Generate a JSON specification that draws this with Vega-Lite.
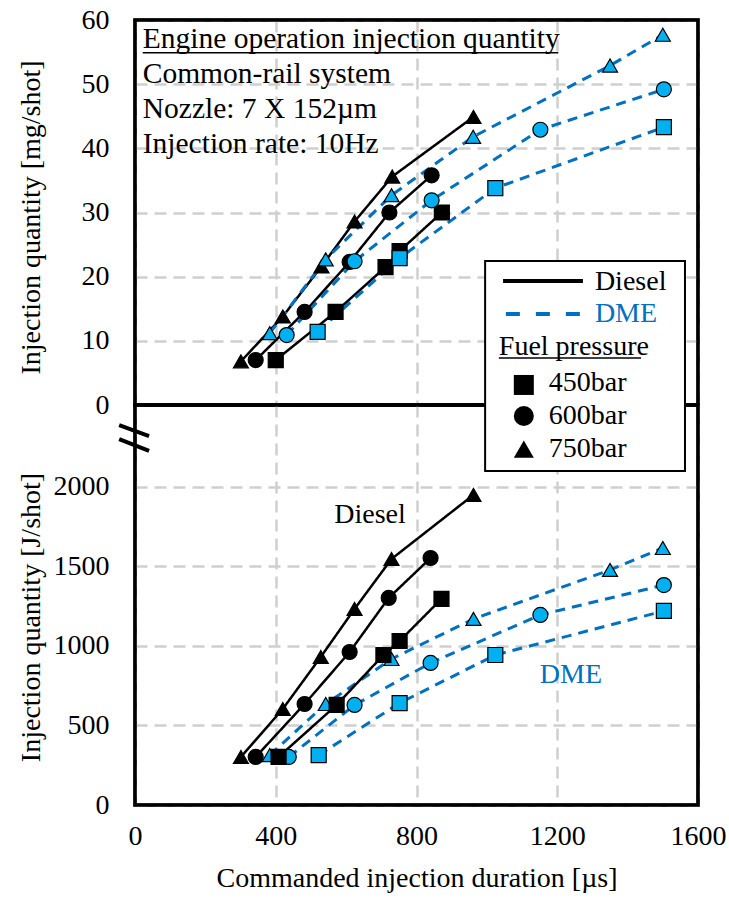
{
  "$schema": "https://vega.github.io/schema/vega-lite/v6.json",
  "padding": {"left": 15, "top": 4, "right": 0, "bottom": 5},
  "spacing": 0,
  "bounds": "flush",
  "config": {
    "font": "Liberation Serif",
    "view": {"stroke": "black", "strokeWidth": 3},
    "axis": {
      "gridColor": "#cfcfcf", "gridDash": [12, 7], "gridWidth": 2.5,
      "domain": false, "ticks": false, "format": "d", "labelFlush": false,
      "labelFontSize": 28, "labelColor": "black", "labelFont": "Liberation Serif",
      "titleFontSize": 28, "titleFontWeight": "normal", "titleColor": "black", "titleFont": "Liberation Serif"
    },
    "text": {"font": "Liberation Serif"}
  },
  "datasets": {
    "mg": [
      {"fuel": "Diesel", "p": "450bar", "t": 400, "q": 7},
      {"fuel": "Diesel", "p": "450bar", "t": 570, "q": 14.5},
      {"fuel": "Diesel", "p": "450bar", "t": 712, "q": 21.5},
      {"fuel": "Diesel", "p": "450bar", "t": 752, "q": 24},
      {"fuel": "Diesel", "p": "450bar", "t": 872, "q": 30},
      {"fuel": "Diesel", "p": "600bar", "t": 343, "q": 7},
      {"fuel": "Diesel", "p": "600bar", "t": 482, "q": 14.5},
      {"fuel": "Diesel", "p": "600bar", "t": 610, "q": 22.3},
      {"fuel": "Diesel", "p": "600bar", "t": 723, "q": 30},
      {"fuel": "Diesel", "p": "600bar", "t": 843, "q": 35.8},
      {"fuel": "Diesel", "p": "750bar", "t": 301, "q": 6.8},
      {"fuel": "Diesel", "p": "750bar", "t": 420, "q": 13.8},
      {"fuel": "Diesel", "p": "750bar", "t": 530, "q": 21.6},
      {"fuel": "Diesel", "p": "750bar", "t": 624, "q": 28.6},
      {"fuel": "Diesel", "p": "750bar", "t": 731, "q": 35.6},
      {"fuel": "Diesel", "p": "750bar", "t": 962, "q": 44.9},
      {"fuel": "DME", "p": "450bar", "t": 519, "q": 11.4},
      {"fuel": "DME", "p": "450bar", "t": 752, "q": 22.9},
      {"fuel": "DME", "p": "450bar", "t": 1024, "q": 33.8},
      {"fuel": "DME", "p": "450bar", "t": 1503, "q": 43.3},
      {"fuel": "DME", "p": "600bar", "t": 431, "q": 10.9},
      {"fuel": "DME", "p": "600bar", "t": 624, "q": 22.4},
      {"fuel": "DME", "p": "600bar", "t": 843, "q": 31.9},
      {"fuel": "DME", "p": "600bar", "t": 1152, "q": 42.9},
      {"fuel": "DME", "p": "600bar", "t": 1503, "q": 49.2},
      {"fuel": "DME", "p": "750bar", "t": 383, "q": 11.2},
      {"fuel": "DME", "p": "750bar", "t": 542, "q": 22.7},
      {"fuel": "DME", "p": "750bar", "t": 729, "q": 32.7},
      {"fuel": "DME", "p": "750bar", "t": 961, "q": 41.8},
      {"fuel": "DME", "p": "750bar", "t": 1350, "q": 52.9},
      {"fuel": "DME", "p": "750bar", "t": 1500, "q": 57.7}
    ],
    "J": [
      {"fuel": "DME", "p": "450bar", "t": 522, "q": 314},
      {"fuel": "DME", "p": "450bar", "t": 752, "q": 641},
      {"fuel": "DME", "p": "450bar", "t": 1024, "q": 943},
      {"fuel": "DME", "p": "450bar", "t": 1503, "q": 1220},
      {"fuel": "DME", "p": "600bar", "t": 437, "q": 302},
      {"fuel": "DME", "p": "600bar", "t": 624, "q": 629},
      {"fuel": "DME", "p": "600bar", "t": 840, "q": 893},
      {"fuel": "DME", "p": "600bar", "t": 1152, "q": 1195},
      {"fuel": "DME", "p": "600bar", "t": 1503, "q": 1383},
      {"fuel": "DME", "p": "750bar", "t": 383, "q": 314},
      {"fuel": "DME", "p": "750bar", "t": 542, "q": 635},
      {"fuel": "DME", "p": "750bar", "t": 729, "q": 918},
      {"fuel": "DME", "p": "750bar", "t": 962, "q": 1170},
      {"fuel": "DME", "p": "750bar", "t": 1350, "q": 1478},
      {"fuel": "DME", "p": "750bar", "t": 1500, "q": 1616},
      {"fuel": "Diesel", "p": "450bar", "t": 408, "q": 302},
      {"fuel": "Diesel", "p": "450bar", "t": 573, "q": 629},
      {"fuel": "Diesel", "p": "450bar", "t": 706, "q": 943},
      {"fuel": "Diesel", "p": "450bar", "t": 752, "q": 1031},
      {"fuel": "Diesel", "p": "450bar", "t": 871, "q": 1296},
      {"fuel": "Diesel", "p": "600bar", "t": 343, "q": 302},
      {"fuel": "Diesel", "p": "600bar", "t": 482, "q": 635},
      {"fuel": "Diesel", "p": "600bar", "t": 610, "q": 962},
      {"fuel": "Diesel", "p": "600bar", "t": 721, "q": 1302},
      {"fuel": "Diesel", "p": "600bar", "t": 840, "q": 1553},
      {"fuel": "Diesel", "p": "750bar", "t": 301, "q": 302},
      {"fuel": "Diesel", "p": "750bar", "t": 420, "q": 604},
      {"fuel": "Diesel", "p": "750bar", "t": 528, "q": 931},
      {"fuel": "Diesel", "p": "750bar", "t": 624, "q": 1233},
      {"fuel": "Diesel", "p": "750bar", "t": 729, "q": 1547},
      {"fuel": "Diesel", "p": "750bar", "t": 962, "q": 1950}
    ]
  },
  "vconcat": [
    {
      "width": 563,
      "height": 385,
      "layer": [
        {
          "data": {"name": "mg"},
          "mark": {"type": "line"},
          "encoding": {
            "x": {"field": "t", "type": "quantitative", "scale": {"domain": [0, 1600], "nice": false},
                  "axis": {"values": [0, 400, 800, 1200, 1600], "labels": false, "title": null, "grid": true}},
            "y": {"field": "q", "type": "quantitative", "scale": {"domain": [0, 60], "nice": false},
                  "axis": {"values": [0, 10, 20, 30, 40, 50, 60], "title": "Injection quantity [mg/shot]", "grid": true,
                           "labelPadding": 26, "titleX": -104, "titleY": 197, "titleAngle": -90, "titleAlign": "center", "titleBaseline": "middle"}},
            "color": {"field": "fuel", "type": "nominal", "scale": {"domain": ["Diesel", "DME"], "range": ["black", "#0070C0"]}, "legend": null},
            "strokeDash": {"field": "fuel", "type": "nominal", "scale": {"domain": ["Diesel", "DME"], "range": [[1, 0], [10, 7]]}, "legend": null},
            "strokeWidth": {"field": "fuel", "type": "nominal", "scale": {"type": "ordinal", "domain": ["Diesel", "DME"], "range": [2.5, 3]}, "legend": null},
            "detail": {"field": "p"}
          }
        },
        {
          "data": {"name": "mg"},
          "mark": {"type": "point", "filled": true, "size": 225, "stroke": "black", "strokeWidth": 1.2, "opacity": 1},
          "encoding": {
            "x": {"field": "t", "type": "quantitative"},
            "y": {"field": "q", "type": "quantitative"},
            "shape": {"field": "p", "type": "nominal", "scale": {"domain": ["450bar", "600bar", "750bar"], "range": ["square", "circle", "triangle-up"]}, "legend": null},
            "fill": {"field": "fuel", "type": "nominal", "scale": {"domain": ["Diesel", "DME"], "range": ["black", "#00B0F0"]}, "legend": null}
          }
        },
        {
          "data": {"values": [{}]},
          "mark": {"type": "rect", "fill": "white", "fillOpacity": 0, "stroke": "black", "strokeWidth": 3.5},
          "encoding": {"x": {"datum": 0}, "x2": {"datum": 1600}, "y": {"datum": 0}, "y2": {"datum": 60}}
        },
        {
          "data": {"values": [{}]},
          "mark": {"type": "text", "align": "left", "baseline": "middle", "fontSize": 29.5, "color": "black", "text": "Engine operation injection quantity"},
          "encoding": {"x": {"datum": 22}, "y": {"datum": 57.1}}
        },
        {
          "data": {"values": [{}]},
          "mark": {"type": "text", "align": "left", "baseline": "middle", "fontSize": 29.5, "color": "black", "text": "Common-rail system"},
          "encoding": {"x": {"datum": 22}, "y": {"datum": 51.6}}
        },
        {
          "data": {"values": [{}]},
          "mark": {"type": "text", "align": "left", "baseline": "middle", "fontSize": 29.5, "color": "black", "text": "Nozzle: 7 X 152µm"},
          "encoding": {"x": {"datum": 22}, "y": {"datum": 46.2}}
        },
        {
          "data": {"values": [{}]},
          "mark": {"type": "text", "align": "left", "baseline": "middle", "fontSize": 29.5, "color": "black", "text": "Injection rate: 10Hz"},
          "encoding": {"x": {"datum": 22}, "y": {"datum": 40.7}}
        },
        {
          "data": {"values": [{}]},
          "mark": {"type": "rule", "color": "black", "strokeWidth": 1.5},
          "encoding": {"x": {"datum": 22}, "x2": {"datum": 1203}, "y": {"datum": 54.9}}
        }
      ]
    },
    {
      "width": 563,
      "height": 400,
      "layer": [
        {
          "data": {"name": "J"},
          "mark": {"type": "line"},
          "encoding": {
            "x": {"field": "t", "type": "quantitative", "scale": {"domain": [0, 1600], "nice": false},
                  "axis": {"values": [0, 400, 800, 1200, 1600], "title": "Commanded injection duration [µs]", "grid": true,
                           "labelPadding": 17, "titlePadding": 14}},
            "y": {"field": "q", "type": "quantitative", "scale": {"domain": [0, 2515], "nice": false},
                  "axis": {"values": [0, 500, 1000, 1500, 2000], "title": "Injection quantity [J/shot]", "grid": true,
                           "labelPadding": 26, "titleX": -104, "titleY": 212, "titleAngle": -90, "titleAlign": "center", "titleBaseline": "middle"}},
            "color": {"field": "fuel", "type": "nominal", "scale": {"domain": ["Diesel", "DME"], "range": ["black", "#0070C0"]}, "legend": null},
            "strokeDash": {"field": "fuel", "type": "nominal", "scale": {"domain": ["Diesel", "DME"], "range": [[1, 0], [10, 7]]}, "legend": null},
            "strokeWidth": {"field": "fuel", "type": "nominal", "scale": {"type": "ordinal", "domain": ["Diesel", "DME"], "range": [2.5, 3]}, "legend": null},
            "detail": {"field": "p"}
          }
        },
        {
          "data": {"name": "J"},
          "mark": {"type": "point", "filled": true, "size": 225, "stroke": "black", "strokeWidth": 1.2, "opacity": 1},
          "encoding": {
            "x": {"field": "t", "type": "quantitative"},
            "y": {"field": "q", "type": "quantitative"},
            "shape": {"field": "p", "type": "nominal", "scale": {"domain": ["450bar", "600bar", "750bar"], "range": ["square", "circle", "triangle-up"]}, "legend": null},
            "fill": {"field": "fuel", "type": "nominal", "scale": {"domain": ["Diesel", "DME"], "range": ["black", "#00B0F0"]}, "legend": null}
          }
        },
        {
          "data": {"values": [{}]},
          "mark": {"type": "rect", "fill": "white", "fillOpacity": 0, "stroke": "black", "strokeWidth": 3.5},
          "encoding": {"x": {"datum": 0}, "x2": {"datum": 1600}, "y": {"datum": 0}, "y2": {"datum": 2515}}
        },
        {
          "data": {"values": [{}]},
          "mark": {"type": "text", "align": "center", "baseline": "middle", "fontSize": 28, "color": "black", "text": "Diesel"},
          "encoding": {"x": {"datum": 668}, "y": {"datum": 1823}}
        },
        {
          "data": {"values": [{}]},
          "mark": {"type": "text", "align": "center", "baseline": "middle", "fontSize": 28, "color": "#0070C0", "text": "DME"},
          "encoding": {"x": {"datum": 1239}, "y": {"datum": 817}}
        },
        {
          "data": {"values": [{}]},
          "mark": {"type": "rule", "color": "black", "strokeWidth": 4},
          "encoding": {"x": {"datum": -45}, "x2": {"datum": 40}, "y": {"datum": 2389}, "y2": {"datum": 2320}}
        },
        {
          "data": {"values": [{}]},
          "mark": {"type": "rule", "color": "black", "strokeWidth": 4},
          "encoding": {"x": {"datum": -45}, "x2": {"datum": 40}, "y": {"datum": 2301}, "y2": {"datum": 2226}}
        },
        {
          "data": {"values": [{}]},
          "mark": {"type": "rect", "fill": "white", "stroke": "black", "strokeWidth": 2},
          "encoding": {"x": {"datum": 995}, "x2": {"datum": 1563}, "y": {"datum": 3420}, "y2": {"datum": 2100}}
        },
        {
          "data": {"values": [{}]},
          "mark": {"type": "rule", "color": "black", "strokeWidth": 4},
          "encoding": {"x": {"datum": 1046}, "x2": {"datum": 1273}, "y": {"datum": 3295}}
        },
        {
          "data": {"values": [{}]},
          "mark": {"type": "rule", "color": "#0070C0", "strokeWidth": 4, "strokeDash": [14, 16]},
          "encoding": {"x": {"datum": 1054}, "x2": {"datum": 1270}, "y": {"datum": 3087}}
        },
        {
          "data": {"values": [{}]},
          "mark": {"type": "text", "align": "left", "baseline": "middle", "fontSize": 28, "color": "black", "text": "Diesel"},
          "encoding": {"x": {"datum": 1307}, "y": {"datum": 3290}}
        },
        {
          "data": {"values": [{}]},
          "mark": {"type": "text", "align": "left", "baseline": "middle", "fontSize": 28, "color": "#0070C0", "text": "DME"},
          "encoding": {"x": {"datum": 1307}, "y": {"datum": 3087}}
        },
        {
          "data": {"values": [{}]},
          "mark": {"type": "text", "align": "left", "baseline": "middle", "fontSize": 28, "color": "black", "text": "Fuel pressure"},
          "encoding": {"x": {"datum": 1034}, "y": {"datum": 2880}}
        },
        {
          "data": {"values": [{}]},
          "mark": {"type": "rule", "color": "black", "strokeWidth": 1.5},
          "encoding": {"x": {"datum": 1034}, "x2": {"datum": 1438}, "y": {"datum": 2810}}
        },
        {
          "data": {"values": [{}]},
          "mark": {"type": "point", "shape": "square", "filled": true, "size": 400, "color": "black", "opacity": 1},
          "encoding": {"x": {"datum": 1105}, "y": {"datum": 2641}}
        },
        {
          "data": {"values": [{}]},
          "mark": {"type": "point", "shape": "circle", "filled": true, "size": 400, "color": "black", "opacity": 1},
          "encoding": {"x": {"datum": 1105}, "y": {"datum": 2446}}
        },
        {
          "data": {"values": [{}]},
          "mark": {"type": "point", "shape": "triangle-up", "filled": true, "size": 400, "color": "black", "opacity": 1},
          "encoding": {"x": {"datum": 1105}, "y": {"datum": 2238}}
        },
        {
          "data": {"values": [{}]},
          "mark": {"type": "text", "align": "left", "baseline": "middle", "fontSize": 28, "color": "black", "text": "450bar"},
          "encoding": {"x": {"datum": 1176}, "y": {"datum": 2653}}
        },
        {
          "data": {"values": [{}]},
          "mark": {"type": "text", "align": "left", "baseline": "middle", "fontSize": 28, "color": "black", "text": "600bar"},
          "encoding": {"x": {"datum": 1176}, "y": {"datum": 2446}}
        },
        {
          "data": {"values": [{}]},
          "mark": {"type": "text", "align": "left", "baseline": "middle", "fontSize": 28, "color": "black", "text": "750bar"},
          "encoding": {"x": {"datum": 1176}, "y": {"datum": 2238}}
        }
      ]
    }
  ]
}
